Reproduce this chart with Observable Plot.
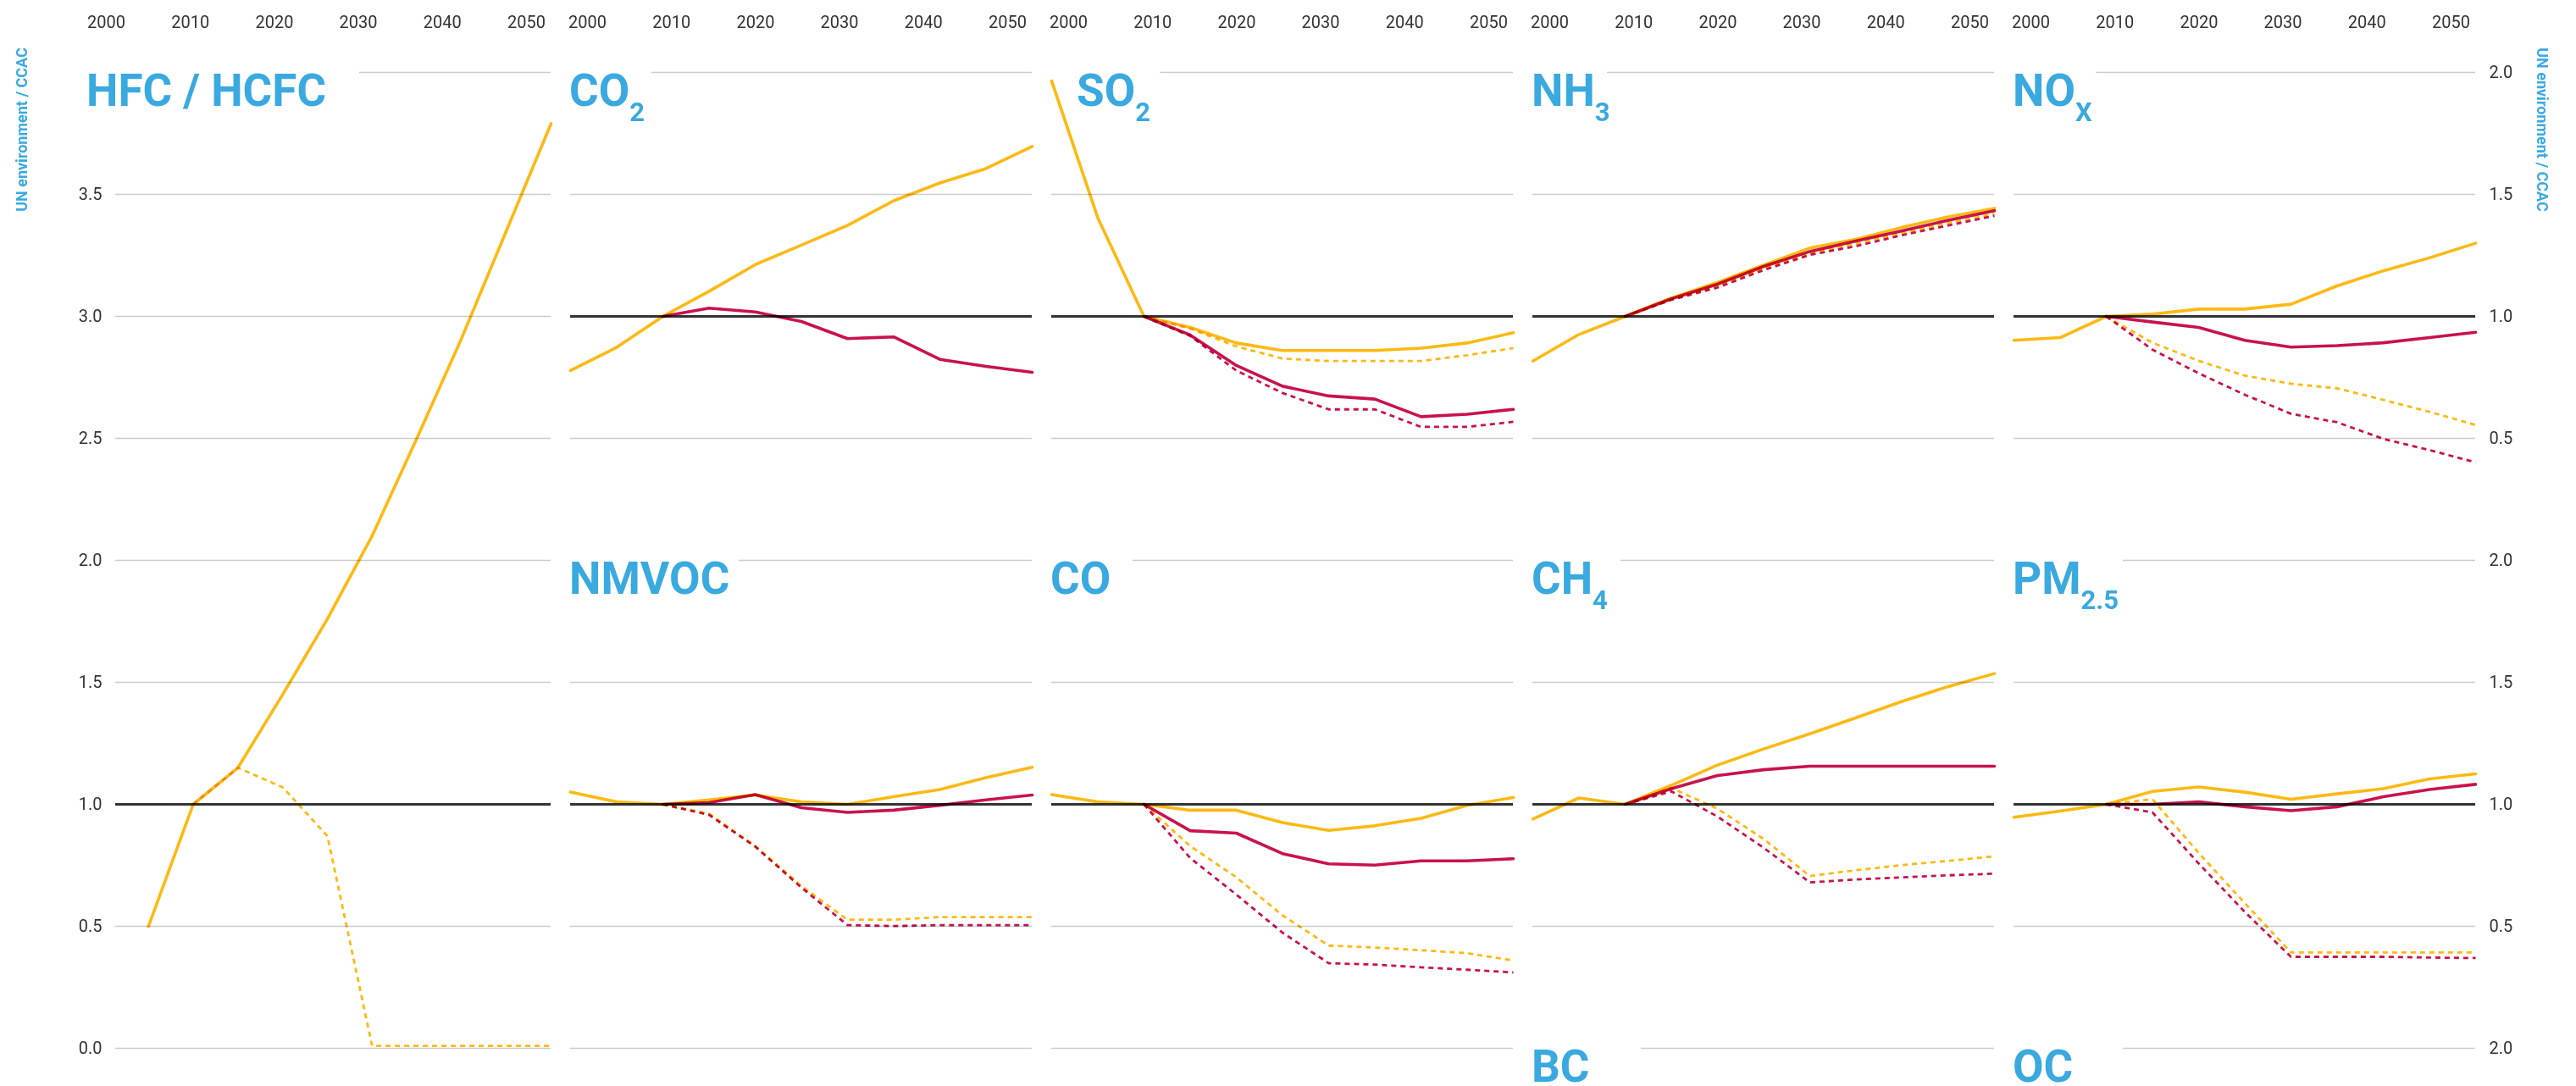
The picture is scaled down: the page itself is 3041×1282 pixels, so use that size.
<!DOCTYPE html>
<html>
<head>
<meta charset="utf-8">
<script src="https://cdn.jsdelivr.net/npm/d3@7"></script>
<script src="https://cdn.jsdelivr.net/npm/@observablehq/plot@0.6"></script>
<style>
  html, body { margin: 0; padding: 0; background: #fff; overflow: hidden; }
  #chart { position: relative; width: 3041px; height: 1282px; overflow: hidden; background: #fff; }
  #chart svg { position: absolute; left: 0; top: 0; }
  .title { position: absolute; color: #39a9e0; font: 700 53px/53px Roboto, sans-serif; white-space: nowrap; }
  .title .sub { font-size: 31px; position: relative; top: 18px; }
  .side { position: absolute; color: #39a9e0; font: 700 18px Roboto, sans-serif; white-space: nowrap; }
</style>
</head>
<body>
<div id="chart"></div>
<script>
// ---------------- data ----------------
const years = [2000, 2005, 2010, 2015, 2020, 2025, 2030, 2035, 2040, 2045, 2050];
const yearTicks = [2000, 2010, 2020, 2030, 2040, 2050];
const rowTicks = [0.5, 1.0, 1.5, 2.0];
const lastRowTicks = [2.0];
const hfcTicks = [0.0, 0.5, 1.0, 1.5, 2.0, 2.5, 3.0, 3.5];
const pollutants = ["HFC / HCFC", "CO2", "SO2", "NH3", "NOx", "NMVOC", "CO", "CH4", "PM2.5", "BC", "OC"];
const sideLabel = "UN environment / CCAC";

// yellow solid / yellow dashed / red solid / red dashed
const hfcBaseline          = [null, 0.50, 1.00, 1.15, 1.45, 1.76, 2.10, 2.50, 2.91, 3.35, 3.79];
const hfcBaselineMeasures  = [null, null, 1.00, 1.15, 1.07, 0.87, 0.01, 0.01, 0.01, 0.01, 0.01];

const co2Baseline          = [0.778, 0.873, 1.00, 1.103, 1.212, 1.292, 1.373, 1.474, 1.547, 1.606, 1.697];
const co2Policy            = [null, null, 1.00, 1.034, 1.018, 0.979, 0.909, 0.916, 0.824, 0.795, 0.771];

const so2Baseline          = [1.965, 1.404, 1.00, 0.955, 0.891, 0.860, 0.860, 0.860, 0.870, 0.891, 0.933];
const so2BaselineMeasures  = [null, null, 1.00, 0.950, 0.877, 0.827, 0.817, 0.817, 0.817, 0.841, 0.870];
const so2Policy            = [null, null, 1.00, 0.924, 0.799, 0.714, 0.674, 0.661, 0.589, 0.599, 0.619];
const so2PolicyMeasures    = [null, null, 1.00, 0.920, 0.778, 0.686, 0.619, 0.619, 0.547, 0.547, 0.568];

const nh3Baseline          = [0.817, 0.926, 1.00, 1.075, 1.139, 1.210, 1.280, 1.316, 1.365, 1.408, 1.443];
const nh3BaselineMeasures  = [null, null, 1.00, 1.070, 1.126, 1.198, 1.258, 1.298, 1.342, 1.383, 1.420];
const nh3Policy            = [null, null, 1.00, 1.072, 1.132, 1.205, 1.266, 1.309, 1.351, 1.394, 1.433];
const nh3PolicyMeasures    = [null, null, 1.00, 1.068, 1.118, 1.190, 1.252, 1.288, 1.333, 1.373, 1.412];

const noxBaseline          = [0.902, 0.913, 1.00, 1.009, 1.030, 1.030, 1.050, 1.125, 1.187, 1.240, 1.300];
const noxBaselineMeasures  = [null, null, 1.00, 0.892, 0.818, 0.757, 0.724, 0.705, 0.658, 0.609, 0.555];
const noxPolicy            = [null, null, 1.00, 0.977, 0.955, 0.902, 0.874, 0.880, 0.892, 0.913, 0.935];
const noxPolicyMeasures    = [null, null, 1.00, 0.864, 0.767, 0.679, 0.601, 0.566, 0.498, 0.452, 0.402];

const nmvocBaseline         = [1.050, 1.010, 1.00, 1.018, 1.038, 1.010, 1.000, 1.031, 1.061, 1.109, 1.152];
const nmvocBaselineMeasures = [null, null, 1.00, 0.962, 0.829, 0.666, 0.527, 0.527, 0.538, 0.538, 0.538];
const nmvocPolicy           = [null, null, 1.00, 1.007, 1.040, 0.986, 0.967, 0.976, 0.996, 1.018, 1.038];
const nmvocPolicyMeasures   = [null, null, 1.00, 0.957, 0.827, 0.659, 0.505, 0.501, 0.505, 0.505, 0.505];

const coBaseline           = [1.040, 1.010, 1.00, 0.976, 0.976, 0.925, 0.893, 0.912, 0.943, 0.996, 1.028];
const coBaselineMeasures   = [null, null, 1.00, 0.829, 0.701, 0.545, 0.421, 0.413, 0.402, 0.390, 0.360];
const coPolicy             = [null, null, 1.00, 0.892, 0.882, 0.798, 0.756, 0.751, 0.768, 0.768, 0.777];
const coPolicyMeasures     = [null, null, 1.00, 0.780, 0.630, 0.474, 0.349, 0.343, 0.332, 0.322, 0.311];

const ch4Baseline          = [0.940, 1.026, 1.00, 1.078, 1.161, 1.227, 1.289, 1.355, 1.422, 1.483, 1.536];
const ch4BaselineMeasures  = [null, null, 1.00, 1.067, 0.982, 0.858, 0.706, 0.730, 0.751, 0.768, 0.787];
const ch4Policy            = [null, null, 1.00, 1.064, 1.118, 1.142, 1.156, 1.156, 1.156, 1.156, 1.156];
const ch4PolicyMeasures    = [null, null, 1.00, 1.053, 0.950, 0.822, 0.680, 0.692, 0.701, 0.709, 0.716];

const pmBaseline           = [0.947, 0.972, 1.00, 1.053, 1.071, 1.050, 1.021, 1.043, 1.064, 1.104, 1.125];
const pmBaselineMeasures   = [null, null, 1.00, 1.021, 0.801, 0.595, 0.393, 0.393, 0.393, 0.393, 0.393];
const pmPolicy             = [null, null, 1.00, 1.000, 1.010, 0.990, 0.974, 0.990, 1.031, 1.061, 1.082];
const pmPolicyMeasures     = [null, null, 1.00, 0.967, 0.758, 0.559, 0.375, 0.375, 0.375, 0.372, 0.370];

// ---------------- tidy table ----------------
const seriesList = [
  ["HFC / HCFC", "baseline", hfcBaseline], ["HFC / HCFC", "baselineMeasures", hfcBaselineMeasures],
  ["CO2", "baseline", co2Baseline], ["CO2", "policy", co2Policy],
  ["SO2", "baseline", so2Baseline], ["SO2", "baselineMeasures", so2BaselineMeasures], ["SO2", "policy", so2Policy], ["SO2", "policyMeasures", so2PolicyMeasures],
  ["NH3", "baseline", nh3Baseline], ["NH3", "baselineMeasures", nh3BaselineMeasures], ["NH3", "policy", nh3Policy], ["NH3", "policyMeasures", nh3PolicyMeasures],
  ["NOx", "baseline", noxBaseline], ["NOx", "baselineMeasures", noxBaselineMeasures], ["NOx", "policy", noxPolicy], ["NOx", "policyMeasures", noxPolicyMeasures],
  ["NMVOC", "baseline", nmvocBaseline], ["NMVOC", "baselineMeasures", nmvocBaselineMeasures], ["NMVOC", "policy", nmvocPolicy], ["NMVOC", "policyMeasures", nmvocPolicyMeasures],
  ["CO", "baseline", coBaseline], ["CO", "baselineMeasures", coBaselineMeasures], ["CO", "policy", coPolicy], ["CO", "policyMeasures", coPolicyMeasures],
  ["CH4", "baseline", ch4Baseline], ["CH4", "baselineMeasures", ch4BaselineMeasures], ["CH4", "policy", ch4Policy], ["CH4", "policyMeasures", ch4PolicyMeasures],
  ["PM2.5", "baseline", pmBaseline], ["PM2.5", "baselineMeasures", pmBaselineMeasures], ["PM2.5", "policy", pmPolicy], ["PM2.5", "policyMeasures", pmPolicyMeasures]
];
const table = seriesList.flatMap(([gas, series, values]) =>
  years.map((year, i) => ({gas, series, year, value: values[i]})).filter(d => d.value != null));

// ---------------- styles ----------------
const YELLOW = "#fdb913", RED = "#c8124d", GRID = "#cccccc", BASE = "#333333";
const seriesStyle = {
  baseline:         {stroke: YELLOW, strokeWidth: 3.6, dash: null},
  baselineMeasures: {stroke: YELLOW, strokeWidth: 2.8, dash: "6,5"},
  policy:           {stroke: RED,    strokeWidth: 3.6, dash: null},
  policyMeasures:   {stroke: RED,    strokeWidth: 2.8, dash: "6,5"}
};

// ---------------- layout (pixels) ----------------
const W = 3041, H = 1900;
const rowTop = r => 85 + 576 * r, rowBottom = r => 661 + 576 * r;
function col(c) { return {x0: 673 + 568 * (c - 1), x1: 1218 + 568 * (c - 1)}; }
const panels = [
  {gas: "HFC / HCFC", html: "HFC / HCFC", x0: 136, x1: 650, r0: 122, top: rowTop(0), bottom: rowBottom(1), ymax: 4,
   grid: [0, 0.5, 1.5, 2, 2.5, 3, 3.5], axis: "left", ticks: hfcTicks, tx: 102, row: 0, gs: 424},
  {gas: "CO2", html: 'CO<span class="sub">2</span>', ...col(1), row: 0, tx: 672, gs: 769},
  {gas: "SO2", html: 'SO<span class="sub">2</span>', ...col(2), row: 0, tx: 1271, gs: 1369},
  {gas: "NH3", html: 'NH<span class="sub">3</span>', ...col(3), row: 0, tx: 1808, gs: 1897},
  {gas: "NOx", html: 'NO<span class="sub">X</span>', ...col(4), row: 0, tx: 2376, gs: 2474, axis: "right", ticks: rowTicks},
  {gas: "NMVOC", html: "NMVOC", ...col(1), row: 1, tx: 672, gs: 872, grid: [0, 0.5, 1.5]},
  {gas: "CO", html: "CO", ...col(2), row: 1, tx: 1240, gs: 1337, grid: [0, 0.5, 1.5]},
  {gas: "CH4", html: 'CH<span class="sub">4</span>', ...col(3), row: 1, tx: 1808, gs: 1913},
  {gas: "PM2.5", html: 'PM<span class="sub">2.5</span>', ...col(4), row: 1, tx: 2376, gs: 2506, axis: "right", ticks: rowTicks},
  {gas: "BC", html: "BC", ...col(3), row: 2, tx: 1808, gs: 1937, grid: []},
  {gas: "OC", html: "OC", ...col(4), row: 2, tx: 2376, gs: 2506, grid: [], axis: "right", ticks: lastRowTicks}
];

const chart = document.getElementById("chart");
const svgStyle = {background: "none", overflow: "visible", fontFamily: "Roboto, sans-serif", fontSize: "20px", color: "#333"};

for (const p of panels) {
  const top = p.top ?? rowTop(p.row);
  const bottom = p.bottom ?? rowBottom(p.row);
  const ymax = p.ymax ?? 2;
  const r0 = p.r0 ?? p.x0;
  const grid = p.grid ?? [0.5, 1.5];
  const gsYear = 2000 + (p.gs - r0) / (p.x1 - r0) * 50;
  const rows = table.filter(d => d.gas === p.gas);
  const marks = [
    Plot.ruleY(grid, {stroke: GRID, strokeWidth: 1.6}),
    Plot.ruleY([ymax], {x1: () => gsYear, x2: () => 2050, stroke: GRID, strokeWidth: 1.6})
  ];
  if (p.row < 2) marks.push(Plot.ruleY([1], {stroke: BASE, strokeWidth: 3.2}));
  for (const s of ["baseline", "baselineMeasures", "policy", "policyMeasures"]) {
    const data = rows.filter(d => d.series === s);
    if (!data.length) continue;
    const st = seriesStyle[s];
    marks.push(Plot.line(data, {
      x: "year", y: "value", stroke: st.stroke, strokeWidth: st.strokeWidth,
      strokeDasharray: st.dash ?? undefined, strokeLinecap: st.dash ? "butt" : "round",
      strokeLinejoin: "round", mixBlendMode: "multiply"
    }));
  }
  const svg = Plot.plot({
    width: W, height: H,
    marginLeft: p.x0, marginRight: W - p.x1, marginTop: top, marginBottom: H - bottom,
    x: {domain: [2000, 2050], range: [r0, p.x1], axis: null},
    y: p.axis
      ? {domain: [0, ymax], range: [bottom, top], axis: p.axis, ticks: p.ticks, tickSize: 0, tickPadding: 16,
         tickFormat: d3.format(".1f"), label: null}
      : {domain: [0, ymax], range: [bottom, top], axis: null},
    style: svgStyle,
    marks
  });
  chart.appendChild(svg);
}

// top year axes (one per column)
for (let c = 0; c < 5; c++) {
  const x0 = 125 + 568 * c, x1 = 621 + 568 * c;
  const svg = Plot.plot({
    width: W, height: H, marginLeft: x0, marginRight: W - x1, marginTop: 40, marginBottom: H - 60,
    x: {domain: [2000, 2050], axis: "top", ticks: yearTicks, tickFormat: d3.format("d"), tickSize: 0, tickPadding: 8, label: null},
    style: svgStyle,
    marks: [Plot.tickX(yearTicks, {x: d => d, strokeOpacity: 0})]
  });
  chart.appendChild(svg);
}

// panel titles
for (const p of panels) {
  const div = document.createElement("div");
  div.className = "title";
  div.innerHTML = p.html;
  div.style.left = p.tx + "px";
  div.style.top = (125 + 576 * p.row - 44) + "px";
  chart.appendChild(div);
}

// side credits
for (const [x, rot] of [[25, -90], [3001, 90]]) {
  const div = document.createElement("div");
  div.className = "side";
  div.textContent = sideLabel;
  div.style.left = x + "px";
  div.style.top = "153px";
  div.style.transform = `translate(-50%, -50%) rotate(${rot}deg)`;
  chart.appendChild(div);
}
</script>
</body>
</html>
